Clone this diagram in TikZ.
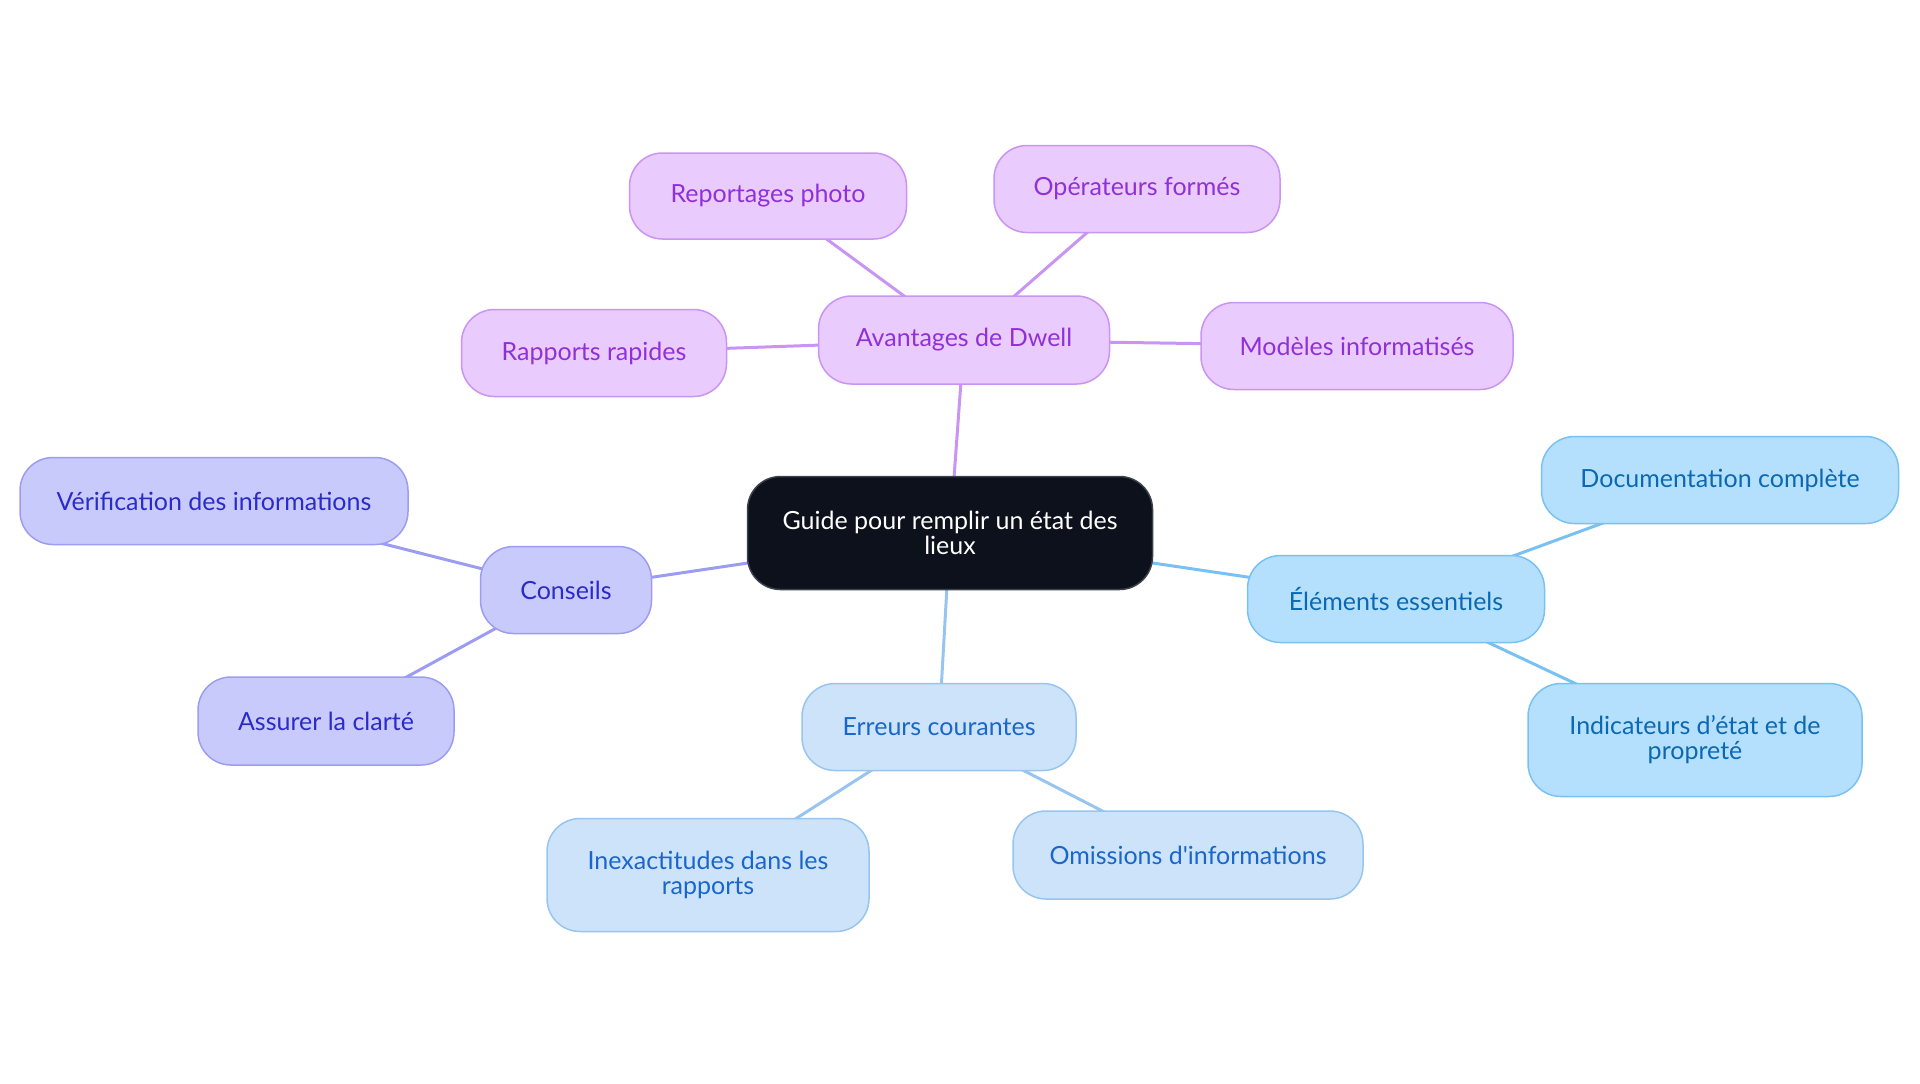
\documentclass[tikz,border=0pt]{standalone}
\usepackage{fontspec}
\setmainfont{Lato}
\usetikzlibrary{backgrounds}

\definecolor{rootfill}{HTML}{0C111B}
\definecolor{rootline}{HTML}{3C424C}
\definecolor{dwfill}{HTML}{E9CBFE}
\definecolor{dwline}{HTML}{C994F2}
\definecolor{dwtext}{HTML}{9230D8}
\definecolor{cofill}{HTML}{C9CAFC}
\definecolor{coline}{HTML}{9C9CF2}
\definecolor{cotext}{HTML}{2B2BC8}
\definecolor{elfill}{HTML}{B4E0FD}
\definecolor{elline}{HTML}{79C1F2}
\definecolor{eltext}{HTML}{0A69B2}
\definecolor{erfill}{HTML}{CDE3FA}
\definecolor{erline}{HTML}{98C5F0}
\definecolor{ertext}{HTML}{1A66CC}

\tikzset{
  topic/.style={draw, line width=0.75pt, rounded corners=16.5pt, align=center,
    font=\fontsize{12.5}{12.5}\selectfont, inner sep=0pt},
  dwell/.style={topic, fill=dwfill, draw=dwline, text=dwtext},
  tips/.style={topic, fill=cofill, draw=coline, text=cotext},
  essen/.style={topic, fill=elfill, draw=elline, text=eltext},
  errs/.style={topic, fill=erfill, draw=erline, text=ertext},
  branch/.style={line width=1.5pt}
}

\begin{document}
\begin{tikzpicture}[x=0.5pt, y=-0.5pt]
  \useasboundingbox (0,0) rectangle (1920,1083);

  % Central topic
  \node[topic, fill=rootfill, draw=rootline, text=white, minimum width=202.5pt, minimum height=56.5pt]
    (root) at (950,533) {Guide pour remplir un état des\\lieux};

  % Avantages de Dwell
  \node[dwell, minimum width=145.5pt, minimum height=44pt] (dwell) at (964,340) {Avantages de Dwell};
  \node[dwell, minimum width=138.5pt, minimum height=43pt] (photo) at (768,196) {Reportages photo};
  \node[dwell, minimum width=143pt, minimum height=43.5pt] (ops) at (1137,189) {Opérateurs formés};
  \node[dwell, minimum width=132.5pt, minimum height=43.5pt] (rapides) at (594,353) {Rapports rapides};
  \node[dwell, minimum width=156pt, minimum height=43.5pt] (modeles) at (1357,346) {Modèles informatisés};

  % Conseils
  \node[tips, minimum width=85.5pt, minimum height=43.5pt] (conseils) at (566,590) {Conseils};
  \node[tips, minimum width=194pt, minimum height=43.5pt] (verif) at (214,501) {Vérification des informations};
  \node[tips, minimum width=128pt, minimum height=44pt] (clarte) at (326,721) {Assurer la clarté};

  % Éléments essentiels
  \node[essen, minimum width=148.5pt, minimum height=43.5pt] (elements) at (1396,599) {Éléments essentiels};
  \node[essen, minimum width=178.5pt, minimum height=43.5pt] (doc) at (1720,480) {Documentation complète};
  \node[essen, minimum width=167pt, minimum height=56.5pt] (indic) at (1695,740) {Indicateurs d’état et de\\propreté};

  % Erreurs courantes
  \node[errs, minimum width=137pt, minimum height=43.5pt] (erreurs) at (939,727) {Erreurs courantes};
  \node[errs, minimum width=161pt, minimum height=56.5pt] (inexact) at (708,875) {Inexactitudes dans les\\rapports};
  \node[errs, minimum width=175pt, minimum height=44pt] (omis) at (1188,855) {Omissions d\textquotesingle informations};

  % Branches
  \begin{pgfonlayer}{background}
    \draw[branch, draw=dwline] (root.center) -- (dwell.center);
    \foreach \leaf in {photo, ops, rapides, modeles}
      \draw[branch, draw=dwline] (dwell.center) -- (\leaf.center);
    \draw[branch, draw=coline] (root.center) -- (conseils.center);
    \foreach \leaf in {verif, clarte}
      \draw[branch, draw=coline] (conseils.center) -- (\leaf.center);
    \draw[branch, draw=elline] (root.center) -- (elements.center);
    \foreach \leaf in {doc, indic}
      \draw[branch, draw=elline] (elements.center) -- (\leaf.center);
    \draw[branch, draw=erline] (root.center) -- (erreurs.center);
    \foreach \leaf in {inexact, omis}
      \draw[branch, draw=erline] (erreurs.center) -- (\leaf.center);
  \end{pgfonlayer}
\end{tikzpicture}
\end{document}
